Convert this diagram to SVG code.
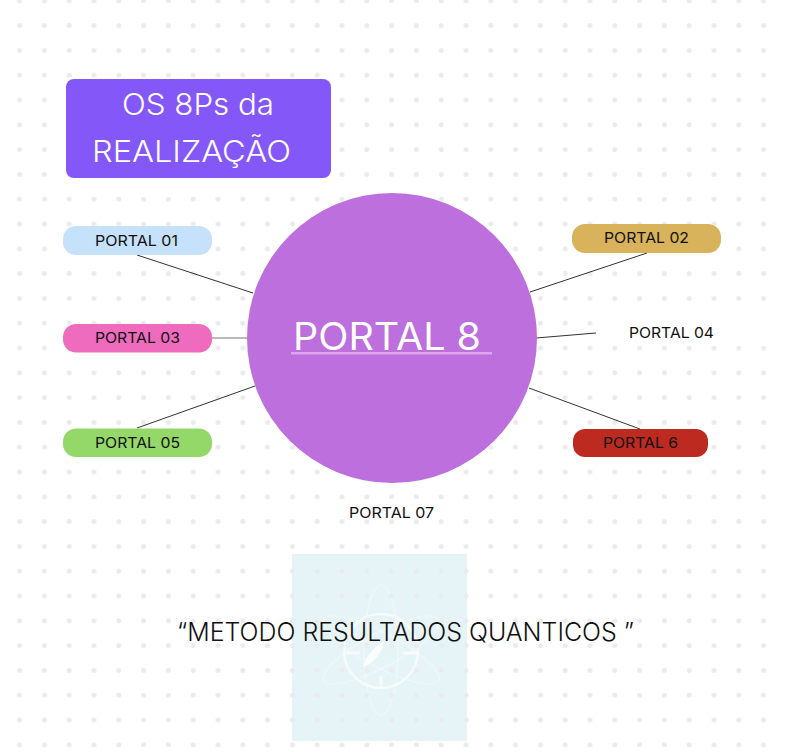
<svg xmlns="http://www.w3.org/2000/svg" width="785" height="752" viewBox="0 0 785 752">
<style>
.lbl{font-family:"Inter","Liberation Sans",sans-serif;font-size:14.6px;fill:#111}
.big{font-family:"Inter","Liberation Sans",sans-serif;font-weight:300;fill:#fff}
.pill{stroke:none}
.conn{stroke:#333;stroke-width:1;fill:none}
.sym{fill:none;stroke:#fff;stroke-opacity:.3;stroke-width:1.5}
</style>
<defs>
<pattern id="dots" patternUnits="userSpaceOnUse" x="7.2" y="-11.6" width="24.8" height="24.8">
<circle cx="12.4" cy="12.4" r="2.5" fill="#ebebee"/>
</pattern>
</defs>
<rect width="785" height="752" fill="#fff"/>
<g id="watermark">
<rect x="292" y="554" width="175" height="187" fill="#e6f4f7"/>
<g class="sym">
<ellipse cx="381" cy="650" rx="17" ry="65"/>
<ellipse cx="381" cy="650" rx="17" ry="65" transform="rotate(62 381 650)"/>
<ellipse cx="381" cy="650" rx="17" ry="65" transform="rotate(-62 381 650)"/>
<circle cx="381" cy="651" r="37" stroke-width="2.500" style="stroke-opacity:.6"/>
<path d="M346 653H360M403 653H417M381 676V688" stroke-width="3" style="stroke-opacity:.6"/>
</g>
<path d="M363 667C366 655 376 646 384 641C383 652 375 662 363 667Z" fill="#fff" fill-opacity=".8"/>
</g>
<rect x="7.2" y="0" width="769" height="752" fill="url(#dots)"/>
<rect id="portal04-backdrop" x="597" y="310" width="188" height="36" fill="#fff"/>
<g id="connectors">
<line class="conn" x1="137" y1="255" x2="253" y2="293"/>
<line class="conn" x1="212" y1="338" x2="247" y2="338" style="stroke:#777;stroke-width:1.2"/>
<line class="conn" x1="137" y1="428" x2="255" y2="386"/>
<line class="conn" x1="647" y1="253" x2="530" y2="292"/>
<line class="conn" x1="536" y1="338" x2="596" y2="333"/>
<line class="conn" x1="529" y1="388" x2="640" y2="429"/>
</g>
<g id="title">
<rect x="66" y="79" width="265" height="99" rx="8" fill="#8457f8"/>
<text class="big" x="122" y="115" font-size="30" textLength="152" lengthAdjust="spacingAndGlyphs">OS 8Ps da</text>
<text class="big" x="92" y="161.500" font-size="30" textLength="199" lengthAdjust="spacingAndGlyphs">REALIZAÇÃO</text>
</g>
<g id="portal-8">
<circle cx="392" cy="338" r="145" fill="#bc6fdd"/>
<text class="big" x="293" y="350" font-size="37.500" style="font-weight:400" textLength="188" lengthAdjust="spacingAndGlyphs">PORTAL 8</text>
<rect x="291" y="352" width="201" height="2.500" fill="#dca5ec"/>
</g>
<g id="portal-01"><rect class="pill" x="63" y="226" width="149" height="29" rx="13" fill="#c6e2fb"/><text class="lbl" x="95" y="245.500" textLength="83" lengthAdjust="spacingAndGlyphs">PORTAL 01</text></g>
<g id="portal-02"><rect class="pill" x="572" y="224" width="149" height="29" rx="13" fill="#d9b25c"/><text class="lbl" x="604" y="243" textLength="85" lengthAdjust="spacingAndGlyphs">PORTAL 02</text></g>
<g id="portal-03"><rect class="pill" x="63" y="324" width="149" height="28.500" rx="13" fill="#ee6bbd"/><text class="lbl" x="95" y="343" textLength="85" lengthAdjust="spacingAndGlyphs">PORTAL 03</text></g>
<g id="portal-04"><text class="lbl" x="629" y="338" textLength="85" lengthAdjust="spacingAndGlyphs">PORTAL 04</text></g>
<g id="portal-05"><rect class="pill" x="63" y="428.500" width="149" height="28.500" rx="13" fill="#94d869"/><text class="lbl" x="95" y="447.500" textLength="85" lengthAdjust="spacingAndGlyphs">PORTAL 05</text></g>
<g id="portal-6"><rect class="pill" x="573" y="429" width="135" height="28" rx="12" fill="#bd2a1f"/><text class="lbl" x="603" y="447.500" textLength="75" lengthAdjust="spacingAndGlyphs">PORTAL 6</text></g>
<g id="portal-07"><text class="lbl" x="349" y="517.500" textLength="85" lengthAdjust="spacingAndGlyphs">PORTAL 07</text></g>
<g id="caption"><text x="177" y="641" font-family="Inter,'Liberation Sans',sans-serif" font-weight="300" font-size="25" fill="#111" textLength="457" lengthAdjust="spacingAndGlyphs">“METODO RESULTADOS QUANTICOS ”</text></g>
</svg>
